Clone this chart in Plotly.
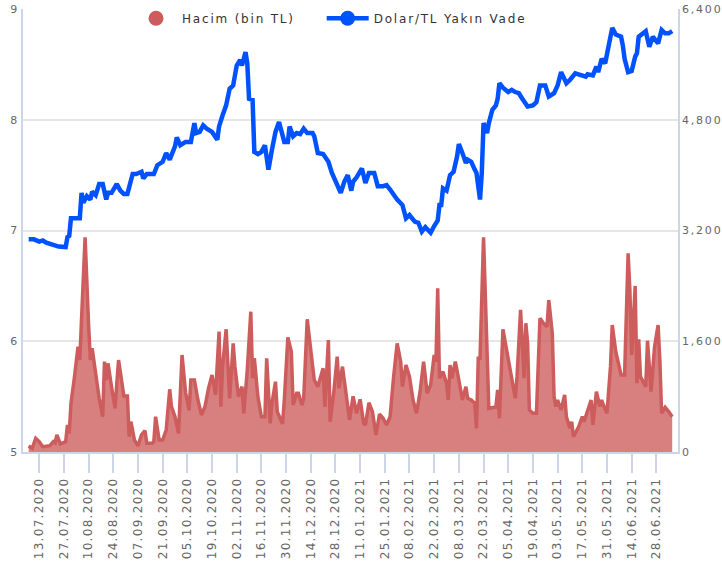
import plotly.graph_objects as go

# ---- Dolar/TL Yakın Vade (left axis) ----
dolar_dates = [
    "2020-07-07", "2020-07-10", "2020-07-13", "2020-07-15", "2020-07-17", "2020-07-21", "2020-07-24",
    "2020-07-28", "2020-07-29", "2020-07-30", "2020-07-31", "2020-08-01", "2020-08-05", "2020-08-06",
    "2020-08-07", "2020-08-09", "2020-08-11", "2020-08-12", "2020-08-14", "2020-08-16", "2020-08-18",
    "2020-08-20", "2020-08-21", "2020-08-23", "2020-08-26", "2020-08-28", "2020-08-30", "2020-09-01",
    "2020-09-04", "2020-09-06", "2020-09-09", "2020-09-10", "2020-09-12", "2020-09-16", "2020-09-18",
    "2020-09-21", "2020-09-23", "2020-09-25", "2020-09-28", "2020-09-29", "2020-10-01", "2020-10-04",
    "2020-10-07", "2020-10-09", "2020-10-10", "2020-10-12", "2020-10-14", "2020-10-16", "2020-10-19",
    "2020-10-22", "2020-10-23", "2020-10-25", "2020-10-27", "2020-10-29", "2020-10-31", "2020-11-02",
    "2020-11-04", "2020-11-05", "2020-11-07", "2020-11-08", "2020-11-09", "2020-11-11", "2020-11-12",
    "2020-11-14", "2020-11-16", "2020-11-18", "2020-11-20", "2020-11-22", "2020-11-24", "2020-11-26",
    "2020-11-28", "2020-11-29", "2020-12-01", "2020-12-02", "2020-12-04", "2020-12-06", "2020-12-08",
    "2020-12-10", "2020-12-12", "2020-12-15", "2020-12-16", "2020-12-18", "2020-12-21", "2020-12-24",
    "2020-12-26", "2020-12-29", "2020-12-31", "2021-01-02", "2021-01-04", "2021-01-06", "2021-01-07",
    "2021-01-09", "2021-01-12", "2021-01-14", "2021-01-16", "2021-01-19", "2021-01-21", "2021-01-24",
    "2021-01-26", "2021-01-28", "2021-01-30", "2021-02-01", "2021-02-04", "2021-02-06", "2021-02-08",
    "2021-02-11", "2021-02-13", "2021-02-15", "2021-02-17", "2021-02-20", "2021-02-22", "2021-02-24",
    "2021-02-25", "2021-02-26", "2021-02-27", "2021-03-01", "2021-03-03", "2021-03-05", "2021-03-07",
    "2021-03-08", "2021-03-10", "2021-03-12", "2021-03-13", "2021-03-15", "2021-03-17", "2021-03-18",
    "2021-03-20", "2021-03-21", "2021-03-22", "2021-03-24", "2021-03-25", "2021-03-27", "2021-03-29",
    "2021-03-30", "2021-03-31", "2021-04-02", "2021-04-05", "2021-04-07", "2021-04-09", "2021-04-11",
    "2021-04-13", "2021-04-15", "2021-04-16", "2021-04-19", "2021-04-21", "2021-04-23", "2021-04-26",
    "2021-04-28", "2021-05-01", "2021-05-03", "2021-05-05", "2021-05-08", "2021-05-10", "2021-05-13",
    "2021-05-16", "2021-05-19", "2021-05-20", "2021-05-23", "2021-05-25", "2021-05-26", "2021-05-28",
    "2021-05-30", "2021-06-01", "2021-06-03", "2021-06-05", "2021-06-08", "2021-06-09", "2021-06-10",
    "2021-06-12", "2021-06-14", "2021-06-16", "2021-06-17", "2021-06-18", "2021-06-20", "2021-06-22",
    "2021-06-24", "2021-06-26", "2021-06-27", "2021-06-29", "2021-07-01", "2021-07-03", "2021-07-05",
    "2021-07-07",
]
dolar_values = [
    6.92, 6.92, 6.90, 6.91, 6.89, 6.87, 6.855,
    6.85, 6.94, 6.95, 7.11, 7.11, 7.11, 7.34,
    7.25, 7.31, 7.28, 7.35, 7.32, 7.42, 7.42,
    7.28, 7.34, 7.34, 7.42, 7.36, 7.33, 7.33,
    7.51, 7.51, 7.53, 7.47, 7.51, 7.51, 7.59,
    7.62, 7.70, 7.64, 7.76, 7.84, 7.77, 7.80,
    7.80, 7.97, 7.88, 7.89, 7.95, 7.92, 7.89,
    7.82, 7.94, 8.04, 8.13, 8.28, 8.31, 8.49,
    8.54, 8.49, 8.61, 8.51, 8.19, 8.18, 7.71,
    7.69, 7.71, 7.77, 7.55, 7.73, 7.89, 7.98,
    7.84, 7.80, 7.80, 7.94, 7.85, 7.88, 7.87,
    7.92, 7.88, 7.88, 7.85, 7.70, 7.69, 7.62,
    7.52, 7.40, 7.34, 7.44, 7.50, 7.36, 7.44,
    7.48, 7.56, 7.43, 7.52, 7.52, 7.40, 7.40,
    7.41, 7.37, 7.32, 7.28, 7.23, 7.11, 7.14,
    7.08, 7.07, 6.99, 7.03, 6.98, 7.04, 7.09,
    7.23, 7.23, 7.38, 7.36, 7.50, 7.53, 7.67,
    7.78, 7.70, 7.61, 7.64, 7.62, 7.55, 7.52,
    7.28, 7.52, 7.97, 7.88, 7.97, 8.09, 8.13,
    8.19, 8.33, 8.29, 8.25, 8.27, 8.25, 8.24,
    8.19, 8.15, 8.12, 8.13, 8.16, 8.31, 8.31,
    8.21, 8.24, 8.31, 8.43, 8.33, 8.36, 8.42,
    8.40, 8.39, 8.41, 8.40, 8.48, 8.43, 8.55,
    8.51, 8.67, 8.83, 8.77, 8.75, 8.67, 8.55,
    8.43, 8.44, 8.57, 8.60, 8.75, 8.77, 8.80,
    8.66, 8.75, 8.73, 8.69, 8.81, 8.78, 8.78,
    8.80,
]

# ---- Hacim (bin TL) (right axis) ----
hacim_dates = [
    "2020-07-07", "2020-07-09", "2020-07-11", "2020-07-13", "2020-07-15", "2020-07-19", "2020-07-21",
    "2020-07-22", "2020-07-23", "2020-07-25", "2020-07-28", "2020-07-29", "2020-07-30", "2020-07-31",
    "2020-08-02", "2020-08-04", "2020-08-05", "2020-08-08", "2020-08-10", "2020-08-11", "2020-08-12",
    "2020-08-14", "2020-08-16", "2020-08-18", "2020-08-19", "2020-08-20", "2020-08-21", "2020-08-23",
    "2020-08-25", "2020-08-26", "2020-08-27", "2020-08-30", "2020-09-01", "2020-09-02", "2020-09-03",
    "2020-09-05", "2020-09-07", "2020-09-09", "2020-09-11", "2020-09-12", "2020-09-15", "2020-09-16",
    "2020-09-17", "2020-09-19", "2020-09-21", "2020-09-23", "2020-09-25", "2020-09-26", "2020-09-28",
    "2020-09-30", "2020-10-02", "2020-10-04", "2020-10-06", "2020-10-07", "2020-10-09", "2020-10-11",
    "2020-10-13", "2020-10-15", "2020-10-17", "2020-10-19", "2020-10-21", "2020-10-23", "2020-10-24",
    "2020-10-25", "2020-10-27", "2020-10-29", "2020-10-31", "2020-11-01", "2020-11-03", "2020-11-05",
    "2020-11-06", "2020-11-08", "2020-11-10", "2020-11-11", "2020-11-12", "2020-11-14", "2020-11-16",
    "2020-11-18", "2020-11-19", "2020-11-21", "2020-11-22", "2020-11-24", "2020-11-25", "2020-11-28",
    "2020-11-29", "2020-12-01", "2020-12-03", "2020-12-04", "2020-12-06", "2020-12-07", "2020-12-09",
    "2020-12-10", "2020-12-12", "2020-12-14", "2020-12-16", "2020-12-18", "2020-12-19", "2020-12-21",
    "2020-12-22", "2020-12-24", "2020-12-25", "2020-12-27", "2020-12-29", "2020-12-30", "2021-01-01",
    "2021-01-03", "2021-01-05", "2021-01-07", "2021-01-09", "2021-01-11", "2021-01-13", "2021-01-14",
    "2021-01-16", "2021-01-18", "2021-01-20", "2021-01-22", "2021-01-24", "2021-01-26", "2021-01-28",
    "2021-01-30", "2021-02-01", "2021-02-03", "2021-02-04", "2021-02-06", "2021-02-08", "2021-02-10",
    "2021-02-12", "2021-02-14", "2021-02-16", "2021-02-18", "2021-02-20", "2021-02-22", "2021-02-23",
    "2021-02-24", "2021-02-25", "2021-02-27", "2021-03-01", "2021-03-02", "2021-03-03", "2021-03-04",
    "2021-03-06", "2021-03-08", "2021-03-10", "2021-03-12", "2021-03-13", "2021-03-15", "2021-03-17",
    "2021-03-18", "2021-03-19", "2021-03-20", "2021-03-22", "2021-03-25", "2021-03-28", "2021-03-29",
    "2021-03-30", "2021-03-31", "2021-04-02", "2021-04-04", "2021-04-07", "2021-04-09", "2021-04-10",
    "2021-04-12", "2021-04-14", "2021-04-15", "2021-04-16", "2021-04-17", "2021-04-19", "2021-04-21",
    "2021-04-23", "2021-04-25", "2021-04-27", "2021-04-28", "2021-04-30", "2021-05-01", "2021-05-02",
    "2021-05-03", "2021-05-05", "2021-05-07", "2021-05-08", "2021-05-10", "2021-05-11", "2021-05-12",
    "2021-05-15", "2021-05-17", "2021-05-18", "2021-05-20", "2021-05-22", "2021-05-23", "2021-05-25",
    "2021-05-27", "2021-05-28", "2021-05-29", "2021-05-31", "2021-06-02", "2021-06-03", "2021-06-05",
    "2021-06-07", "2021-06-08", "2021-06-10", "2021-06-12", "2021-06-13", "2021-06-14", "2021-06-16",
    "2021-06-17", "2021-06-18", "2021-06-19", "2021-06-22", "2021-06-23", "2021-06-25", "2021-06-27",
    "2021-06-29", "2021-06-30", "2021-07-01", "2021-07-03", "2021-07-05", "2021-07-07",
]
hacim_values = [
    87, 53, 198, 149, 77, 91, 149,
    130, 246, 116, 149, 390, 270, 703,
    1088, 1522, 1329, 3102, 1835, 1329, 1498,
    1113, 776, 510, 1305, 1040, 1281, 944,
    631, 993, 1329, 809, 809, 221, 438,
    173, 87, 246, 308, 125, 125, 149,
    510, 173, 173, 318, 906, 655, 510,
    270, 1402, 860, 600, 1040, 1040, 751,
    535, 655, 920, 1113, 824, 1739, 655,
    1233, 1773, 776, 1570, 1233, 800, 944,
    559, 1185, 2027, 1065, 1354, 800, 510,
    510, 1354, 414, 703, 1016, 583, 405,
    751, 1657, 1450, 679, 848, 848, 679,
    776, 1917, 1474, 1040, 944, 1040, 1209,
    655, 1618, 438, 848, 1377, 920, 1233,
    824, 462, 805, 559, 761, 414, 390,
    713, 583, 246, 549, 487, 390, 510,
    1088, 1570, 1305, 944, 1257, 1088, 751,
    559, 872, 1305, 848, 968, 1402, 1305,
    2365, 1065, 1161, 993, 751, 1257, 1065,
    1305, 1040, 751, 944, 776, 751, 703,
    342, 1354, 1354, 3102, 631, 655, 650,
    896, 487, 1773, 1474, 1065, 776, 1088,
    2052, 1065, 1860, 1570, 607, 559, 559,
    1932, 1860, 1811, 2196, 1715, 800, 655,
    751, 607, 824, 510, 342, 438, 221,
    366, 510, 438, 583, 751, 390, 872,
    655, 751, 679, 559, 1233, 1835, 1450,
    1233, 1113, 1113, 2871, 2341, 1402, 2399,
    993, 1628, 1088, 944, 1608, 872, 1522,
    1835, 1329, 559, 646, 583, 510,
]

series_names = ["Hacim (bin TL)", "Dolar/TL Yakın Vade"]
left_ticks = [5, 6, 7, 8, 9]
right_ticks = [0, 1600, 3200, 4800, 6400]
x_tick_start = "2020-07-13"
x_range = ["2020-07-03 19:00", "2021-07-10 07:00"]

RED = "#cd5c5c"
BLUE = "#0052ff"
AXIS = "#ccd6eb"
GRID = "#e6e6e6"

fig = go.Figure()
fig.add_trace(go.Scatter(
    x=hacim_dates, y=hacim_values, yaxis="y2", mode="lines",
    line=dict(color=RED, width=3.5), fill="tozeroy",
    fillcolor="rgba(205,92,92,0.78)", showlegend=False, name=series_names[0]))
fig.add_trace(go.Scatter(
    x=dolar_dates, y=dolar_values, mode="lines",
    line=dict(color=BLUE, width=4.5), showlegend=False, name=series_names[1]))
# legend entries (one legend box per entry so each can be placed freely)
fig.add_trace(go.Scatter(
    x=[None], y=[None], mode="markers", name=series_names[0], legend="legend",
    marker=dict(color=RED, size=15)))
fig.add_trace(go.Scatter(
    x=[None], y=[None], mode="lines+markers", name=series_names[1], legend="legend2",
    line=dict(color=BLUE, width=4.5), marker=dict(color=BLUE, size=15)))

legend_common = dict(orientation="h", xanchor="left", y=1.012, yanchor="top",
                     bgcolor="rgba(0,0,0,0)", font=dict(color="#333333", size=12),
                     itemwidth=42, entrywidth=200, itemclick=False)

fig.update_layout(
    width=722, height=575,
    margin=dict(l=23, r=44, t=9, b=123, autoexpand=False),
    plot_bgcolor="white", paper_bgcolor="white",
    font=dict(family="DejaVu Sans", size=11, color="#666666"),
    legend=dict(x=0.1634, **legend_common),
    legend2=dict(x=0.456, **legend_common),
    xaxis=dict(type="date", range=x_range, tick0=x_tick_start, dtick=14 * 86400000,
               tickformat="%d.%m.%Y", tickangle=-90, ticks="outside", ticklen=19,
               tickcolor=AXIS, tickwidth=1.5, showline=True, linecolor=AXIS, linewidth=1.5,
               showgrid=False, zeroline=False, automargin=False, tickfont=dict(size=12)),
    yaxis=dict(range=[5, 9], tickvals=left_ticks, showgrid=True, gridcolor=GRID, gridwidth=2,
               showline=True, linecolor=AXIS, linewidth=1.5, zeroline=False, ticks="",
               automargin=False),
    yaxis2=dict(overlaying="y", side="right", range=[0, 6400], tickvals=right_ticks,
                tickformat=",d", showgrid=False, showline=True, linecolor=AXIS, linewidth=1.5,
                zeroline=False, ticks="", automargin=False),
)

post = """
document.body.style.margin = '0';
var s = document.createElement('style');
s.innerHTML = '.xtick text{letter-spacing:1.3px} .ytick text, .y2tick text{letter-spacing:1.8px} ' +
  'text.legendtext, g.legend text, g.legend2 text{letter-spacing:1.8px !important}';
document.head.appendChild(s);
function spaceLegend() {
  document.querySelectorAll('.infolayer text').forEach(function (t) {
    if (t.closest('.xtick, .ytick, .y2tick')) return;
    t.style.letterSpacing = '1.8px';
  });
}
spaceLegend();
var gd = document.querySelector('.plotly-graph-div');
if (gd && gd.on) { gd.on('plotly_afterplot', spaceLegend); }
"""
fig.write_html("out.html", post_script=post, config={"displayModeBar": False})
